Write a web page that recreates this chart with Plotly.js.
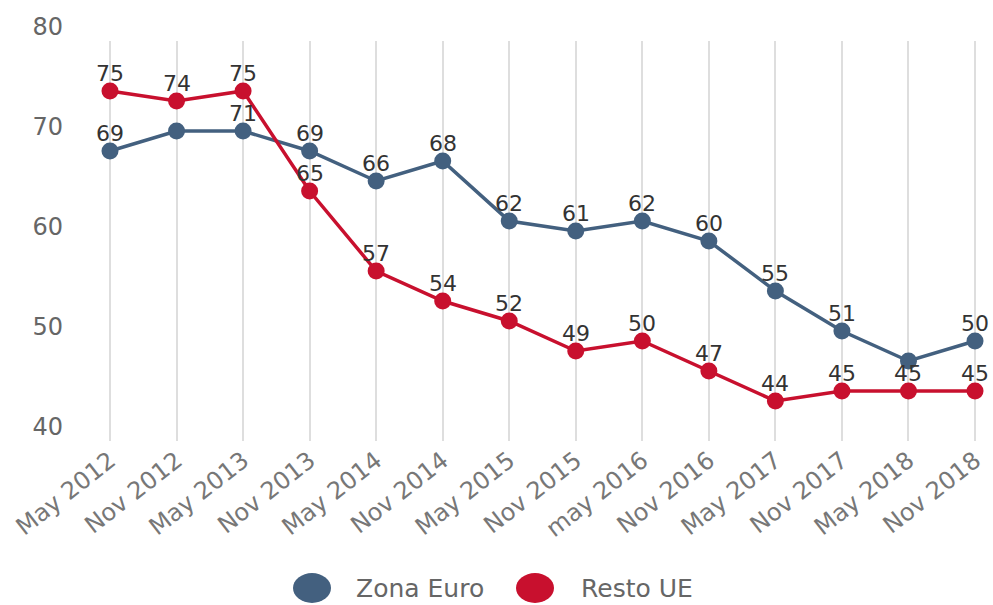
<!DOCTYPE html>
<html>
<head>
<meta charset="utf-8">
<script src="https://cdn.plot.ly/plotly-3.0.1.min.js"></script>
<style>html,body{margin:0;padding:0;background:#fff;}#chart{width:993px;height:605px;}</style>
</head>
<body>
<div id="chart"></div>
<script>
const categories = ["May 2012","Nov 2012","May 2013","Nov 2013","May 2014","Nov 2014","May 2015","Nov 2015","may 2016","Nov 2016","May 2017","Nov 2017","May 2018","Nov 2018"];
const zonaEuro = [69, 71, 71, 69, 66, 68, 62, 61, 62, 60, 55, 51, 48, 50];
const restoUE = [75, 74, 75, 65, 57, 54, 52, 49, 50, 47, 44, 45, 45, 45];
const zonaEuroHiddenLabels = [1, 12];
const seriesNames = ["Zona Euro", "Resto UE"];
const tickValues = [40, 50, 60, 70, 80];

const blue = "#43607f";
const red = "#c8102e";
const font = "DejaVu Sans, Verdana, sans-serif";

const traces = [
  {
    x: categories, y: zonaEuro, name: seriesNames[0], type: "scatter", mode: "lines+markers",
    line: {color: blue, width: 3.5},
    marker: {color: blue, size: 17},
    cliponaxis: false, showlegend: false, hoverinfo: "x+y"
  },
  {
    x: categories, y: restoUE, name: seriesNames[1], type: "scatter", mode: "lines+markers",
    line: {color: red, width: 3.5},
    marker: {color: red, size: 17},
    cliponaxis: false, showlegend: false, hoverinfo: "x+y"
  }
];

const labelFont = {family: font, size: 22, color: "#333"};
const dataLabels = [];
zonaEuro.forEach((v, i) => {
  if (!zonaEuroHiddenLabels.includes(i)) {
    dataLabels.push({x: categories[i], y: v, xref: "x", yref: "y", text: String(v), showarrow: false, yanchor: "middle", yshift: 18, font: labelFont});
  }
});
restoUE.forEach((v, i) => {
  dataLabels.push({x: categories[i], y: v, xref: "x", yref: "y", text: String(v), showarrow: false, yanchor: "middle", yshift: 18, font: labelFont});
});

const L = 75, R = 985, T = 41, B = 441;
const px = v => (v - L) / (R - L);
const py = v => (B - v) / (B - T);

const layout = {
  width: 993, height: 605,
  margin: {l: L, r: 993 - R, t: T, b: 605 - B},
  paper_bgcolor: "#fff", plot_bgcolor: "#fff",
  font: {family: font, color: "#666"},
  showlegend: false,
  xaxis: {
    type: "category",
    range: [-0.526, 13.15],
    showgrid: true, gridcolor: "#dedede", gridwidth: 2,
    zeroline: false, showline: false, ticks: "",
    tickangle: -38,
    tickfont: {family: font, size: 24, color: "#777"}
  },
  yaxis: {
    range: [40, 80],
    tickvals: tickValues,
    showgrid: false, zeroline: false, showline: false, ticks: "",
    ticklabelshift: -14,
    ticklabelstandoff: 11,
    tickfont: {family: font, size: 24, color: "#666"}
  },
  shapes: [
    {type: "circle", xref: "paper", yref: "paper", x0: px(293), x1: px(331), y0: py(603), y1: py(573), fillcolor: blue, line: {width: 0}},
    {type: "circle", xref: "paper", yref: "paper", x0: px(516), x1: px(554), y0: py(603), y1: py(573), fillcolor: red, line: {width: 0}}
  ],
  annotations: dataLabels.concat([
    {xref: "paper", yref: "paper", x: px(354), y: py(588), xanchor: "left", yanchor: "middle", text: seriesNames[0], showarrow: false, font: {family: font, size: 25, color: "#666"}},
    {xref: "paper", yref: "paper", x: px(579), y: py(588), xanchor: "left", yanchor: "middle", text: seriesNames[1], showarrow: false, font: {family: font, size: 25, color: "#666"}}
  ])
};

Plotly.newPlot("chart", traces, layout, {displayModeBar: false, staticPlot: true});
</script>
</body>
</html>
